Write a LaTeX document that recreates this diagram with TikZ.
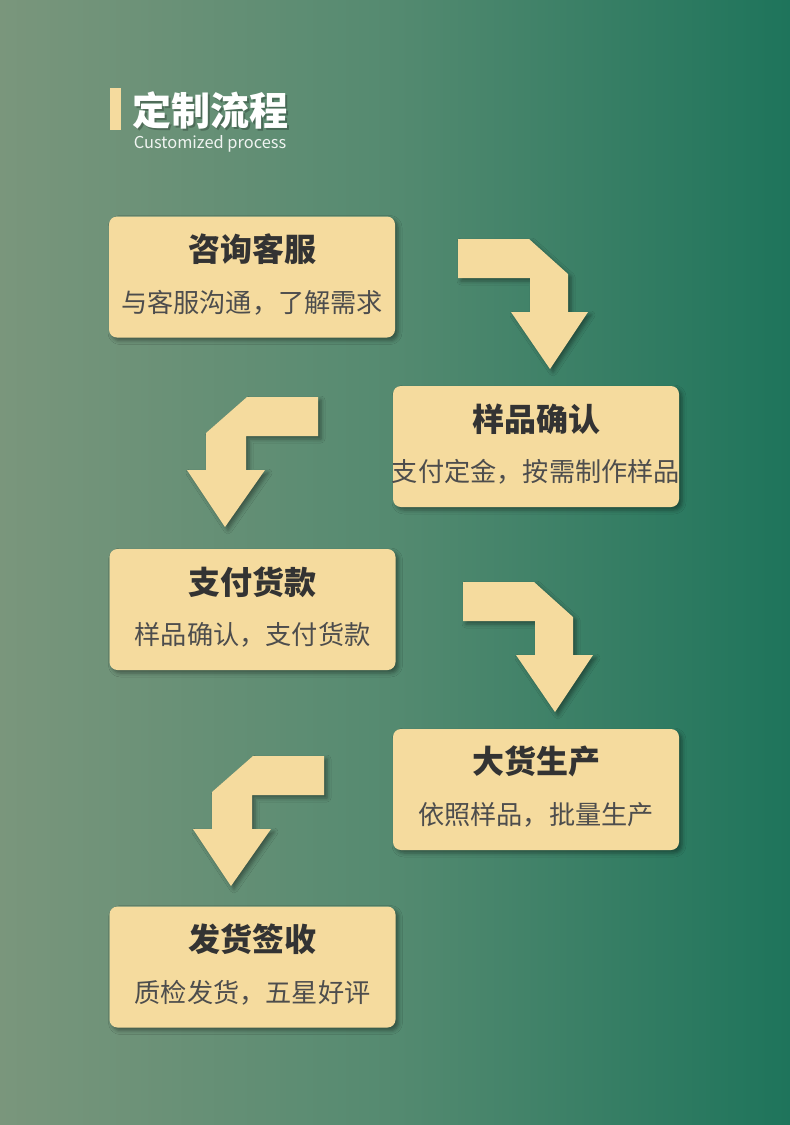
\documentclass[tikz,border=0pt]{standalone}
\usepackage{fontspec}
\newfontfamily\cjk{Noto Sans CJK SC}
\usepackage{xcolor}
\usetikzlibrary{positioning,shadows.blur}

\definecolor{bgleft}{RGB}{122,150,124}
\definecolor{bgmid}{RGB}{84,138,112}
\definecolor{bgright}{RGB}{30,116,91}
\definecolor{cream}{RGB}{245,219,158}
\definecolor{inkdark}{RGB}{51,51,51}
\definecolor{inkgray}{RGB}{77,77,77}

\begin{document}
\begin{tikzpicture}[
    x=1pt, y=-1pt,
    softshadow/.style={blur shadow={shadow xshift=3pt,shadow yshift=-3pt,
                       shadow blur radius=4pt,shadow opacity=40}},
    stepbox/.style={rectangle,rounded corners=8pt,fill=cream,softshadow,
                    minimum width=286pt,minimum height=121pt,inner sep=0pt},
    steptitle/.style={font=\cjk\bfseries\fontsize{32}{35}\selectfont,
                      text=inkdark,inner sep=0pt},
    stepnote/.style={font=\cjk\fontsize{26.2}{29}\selectfont,
                     text=inkgray,inner sep=0pt},
    turnarrow/.style={fill=cream,softshadow},
    turnright/.pic={\fill[turnarrow] (0,0) -- (71,0) -- (110,35) -- (110,73)
        -- (130,73) -- (92,130) -- (53,73) -- (72,73) -- (72,39) -- (0,39) -- cycle;},
    turnleft/.pic={\fill[turnarrow] (0,0) -- (-71,0) -- (-112,36) -- (-112,73)
        -- (-131,73) -- (-93,130) -- (-53,73) -- (-72,73) -- (-72,39) -- (0,39) -- cycle;},
  ]

  % --- background ---
  \shade[left color=bgleft,right color=bgright,middle color=bgmid]
    (0,0) rectangle (790,1125);
  \useasboundingbox (0,0) rectangle (790,1125);

  % --- heading ---
  \fill[cream] (110,88) rectangle (121,130);
  \node[font=\cjk\bfseries\fontsize{39}{42}\selectfont,text=black,opacity=0.25,
        inner sep=0pt] at (212,112) {定制流程};
  \node[font=\cjk\bfseries\fontsize{39}{42}\selectfont,text=white,inner sep=0pt]
    (heading) at (210,110) {定制流程};
  \node[font=\cjk\fontsize{16.4}{18}\selectfont,text=white,opacity=0.9,inner sep=0pt]
    (subheading) at (210,144) {Customized process};

  % --- steps ---
  \node[stepbox] (consult) at (252,277) {};
  \node[steptitle] at ([yshift=-33pt]consult.north) {咨询客服};
  \node[stepnote]  at ([yshift=-86pt]consult.north) {与客服沟通，了解需求};

  \node[stepbox] (sample) at (536,446.5) {};
  \node[steptitle] at ([yshift=-33pt]sample.north) {样品确认};
  \node[stepnote]  at ([yshift=-86pt]sample.north) {支付定金，按需制作样品};

  \node[stepbox] (payment) at (252.5,609.5) {};
  \node[steptitle] at ([yshift=-33pt]payment.north) {支付货款};
  \node[stepnote]  at ([yshift=-86pt]payment.north) {样品确认，支付货款};

  \node[stepbox] (produce) at (536,789.5) {};
  \node[steptitle] at ([yshift=-33pt]produce.north) {大货生产};
  \node[stepnote]  at ([yshift=-86pt]produce.north) {依照样品，批量生产};

  \node[stepbox] (deliver) at (252.5,967) {};
  \node[steptitle] at ([yshift=-33pt]deliver.north) {发货签收};
  \node[stepnote]  at ([yshift=-86pt]deliver.north) {质检发货，五星好评};

  % --- turning arrows between the steps ---
  \pic at (458,239) {turnright};
  \pic at (318,397) {turnleft};
  \pic at (463,582) {turnright};
  \pic at (324,756) {turnleft};

\end{tikzpicture}
\end{document}
